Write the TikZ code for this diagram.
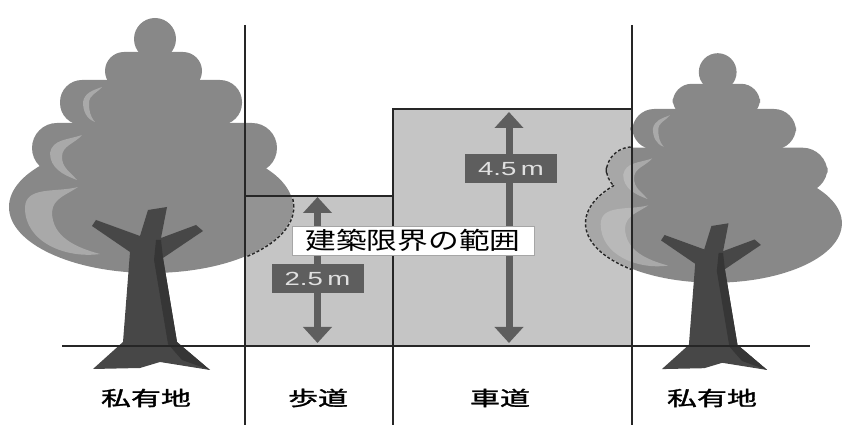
\documentclass[tikz,border=0pt]{standalone}
\usepackage{fontspec}
\setmainfont{Liberation Sans}
\newfontfamily\jpfont{Noto Sans CJK JP}
\newfontfamily\jpbold[FakeBold=1.2]{Noto Sans CJK JP}
\usetikzlibrary{arrows.meta}

\definecolor{leaf}{HTML}{888888}
\definecolor{leaflight}{HTML}{A9A9A9}
\definecolor{leafin}{HTML}{939393}
\definecolor{leafinlight}{HTML}{ADADAD}
\definecolor{leafinr}{HTML}{A7A7A7}
\definecolor{leafinrlight}{HTML}{B9B9B9}
\definecolor{bark}{HTML}{474747}
\definecolor{barkdark}{HTML}{363636}
\definecolor{zone}{HTML}{C5C5C5}
\definecolor{dimgray}{HTML}{5E5E5E}
\definecolor{linegray}{HTML}{262626}

% canopy, lowest tier first: #1 leaf colour, #2 highlight colour
\newcommand{\treecanopy}[2]{%
 \fill[#1] (-1,163) ellipse (142 and 66);
 \fill[#2] (-74,183) to[out=195,in=90] (-127,162) to[out=270,in=188] (-52,116)
  to[out=165,in=270] (-100,158) to[out=85,in=215] cycle;
 \fill[#1, rounded corners=25] (-120,197) rectangle (125,247);
 \fill[#2] (-70,235) to[out=200,in=80] (-102,217) to[out=270,in=160] (-75,190)
  to[out=130,in=270] (-90,213) to[out=90,in=230] cycle;
 \fill[#1, rounded corners=22] (-92,245) rectangle (90,290);
 \fill[#2] (-50,283) to[out=200,in=80] (-69,268) to[out=270,in=160] (-57,248)
  to[out=130,in=270] (-63,267) to[out=90,in=230] cycle;
 \fill[#1, rounded corners=19] (-47,280) rectangle (50,318);
 \fill[#1] (3,331) circle (21);
}
\newcommand{\canopyrim}{%
 \draw[dashrim] (-1,163) ellipse (142 and 66);
 \draw[dashrim, rounded corners=25] (-120,197) rectangle (125,247);
 \draw[dashrim, rounded corners=22] (-92,245) rectangle (90,290);
 \draw[dashrim, rounded corners=19] (-47,280) rectangle (50,318);
 \draw[dashrim] (3,331) circle (21);
}
\newcommand{\treetrunk}{%
 \fill[bark] (-59,1) -- (-29,28) -- (-22,118) -- (-60,144) -- (-56,150) -- (-12,134)
  -- (-4,160) -- (15,163) -- (9,132) -- (44,145) -- (51,139) -- (11,112) -- (25,28)
  -- (58,0) -- (8,8) -- (-12,2) -- cycle;
 \fill[barkdark] (9,130) -- (11,112) -- (25,28) -- (58,0) -- (30,10) -- (16,26)
  -- (2,110) -- (4,130) -- cycle;
}
\newcommand{\drawtree}{\treecanopy{leaf}{leaflight}\treetrunk}

\begin{document}
\begin{tikzpicture}[x=1pt,y=1pt,
 zoneline/.style={draw=linegray, line width=2pt},
 dashrim/.style={draw=linegray, line width=3pt, dash pattern=on 3pt off 2pt},
 sizearrow/.style={dimgray, line width=7pt,
  {Triangle[width=28pt,length=16pt]}-{Triangle[width=28pt,length=16pt]}},
 dimlabel/.style={fill=dimgray, text=white!88!black, inner sep=0pt,
  minimum width=92pt, minimum height=29pt, font=\fontsize{19}{19}\selectfont},
 zonelabel/.style={inner sep=0pt, font=\jpbold\fontsize{20}{20}\selectfont}]
\useasboundingbox (0,0) rectangle (844,425);
%
\coordinate (gl) at (62,79);
\coordinate (gr) at (810,79);
\coordinate (ltop) at (245,400);
\coordinate (lbot) at (245,0);
\coordinate (swbase) at (245,79);
\coordinate (swtop) at (245,229);
\coordinate (swcorner) at (393,229);
\coordinate (mtop) at (393,316);
\coordinate (mbase) at (393,79);
\coordinate (mbot) at (393,0);
\coordinate (rdtop) at (632,316);
\coordinate (rtop) at (632,400);
\coordinate (rbot) at (632,0);
\draw[zoneline] (gl) -- (gr);
%
\begin{scope}[shift={(152,55)}] \drawtree \end{scope}
\begin{scope}[shift={(715,55)}, scale=0.9] \drawtree \end{scope}
%
\fill[zone] (swbase) rectangle (swcorner);
\fill[zone] (mbase) rectangle (rdtop);
\begin{scope}
 \clip (swbase) rectangle (swcorner);
 \begin{scope}[shift={(152,55)}] \canopyrim \treecanopy{leafin}{leafinlight} \end{scope}
\end{scope}
\begin{scope}
 \clip (mbase) rectangle (rdtop);
 \begin{scope}[shift={(715,55)}, scale=0.9] \canopyrim \treecanopy{leafinr}{leafinrlight} \end{scope}
\end{scope}
%
\draw[zoneline] (gl) -- (gr);
\draw[zoneline] (ltop) -- (lbot);
\draw[zoneline] (swtop) -- (swcorner);
\draw[zoneline] (mbot) -- (mtop) -- (rdtop);
\draw[zoneline] (rtop) -- (rbot);
%
\coordinate (s25a) at (317.5,228);
\coordinate (s25b) at (317.5,82);
\coordinate (s45a) at (509,313);
\coordinate (s45b) at (509,82);
\draw[sizearrow] (s25a) -- (s25b);
\draw[sizearrow] (s45a) -- (s45b);
%
\node[dimlabel] (h25) at (317.5,146.5) {\scalebox{1.45}[1]{2.5\,m}};
\node[dimlabel] (h45) at (511,256) {\scalebox{1.45}[1]{4.5\,m}};
\node[draw=gray!70, fill=white, line width=0.8pt, inner sep=0pt,
 minimum width=242pt, minimum height=29pt, font=\jpfont\fontsize{24}{24}\selectfont]
 (range) at (413,184.5) {\scalebox{1.28}[1]{建築限界の範囲}};
%
\node[zonelabel] (pl) at (146,27) {\scalebox{1.5}[1]{私有地}};
\node[zonelabel] (sw) at (318,27) {\scalebox{1.5}[1]{歩道}};
\node[zonelabel] (rd) at (500,27) {\scalebox{1.5}[1]{車道}};
\node[zonelabel] (pr) at (712,27) {\scalebox{1.5}[1]{私有地}};
\end{tikzpicture}
\end{document}
